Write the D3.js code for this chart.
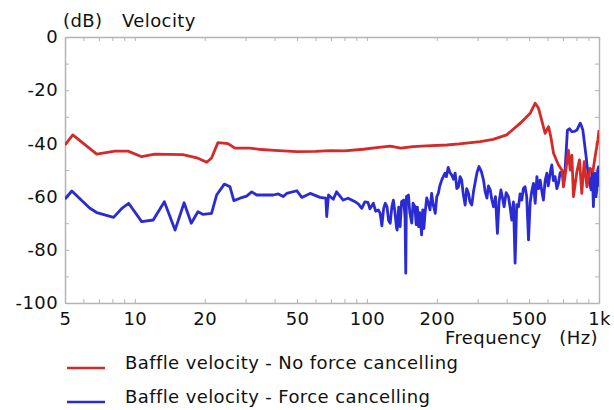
<!DOCTYPE html>
<meta charset="utf-8">
<script src="https://d3js.org/d3.v7.min.js"></script>
<style>
  body { margin: 0; background: #fff; }
  text { font-family: "DejaVu Sans", Verdana, sans-serif; fill: #111; letter-spacing: 0.4px; }
</style>
<div id="main"></div>
<script>

var width = 614
var height = 410

// frequency (Hz) and level (dB)
var noCancelFreq = [5, 5.4, 6.85, 8.2, 9.35, 10.7, 12.2, 16.1, 18.5, 20.4, 21.4, 22.8, 25.2, 27, 31.3, 35, 40, 49.7, 60, 69.4, 80, 96.5, 110, 126, 140, 158, 180, 221, 250, 308, 350, 400, 458, 505, 531, 549, 586, 606, 620, 637, 669, 692, 703, 715, 738, 751, 764, 776, 803, 824, 843, 863, 887, 916, 941, 962, 989, 1000]
var noCancelDb = [-40.6, -36.8, -44, -42.9, -42.9, -45, -44, -44.2, -45.4, -47.1, -45.5, -39.7, -40.1, -41.8, -41.8, -42.3, -42.6, -43.1, -43, -42.7, -42.8, -42.2, -41.6, -41, -41.8, -41.2, -40.9, -40.6, -40.2, -39.3, -38.5, -36.8, -32.4, -28.7, -24.9, -26.8, -36.2, -33.7, -37.5, -43.7, -48.1, -50, -56.3, -52, -42.5, -50, -44.4, -60, -50.6, -46.2, -58.8, -46.9, -56.3, -49.4, -50.6, -45, -38.7, -35]

var cancelFreq = [5, 5.35, 6.4, 6.85, 8.1, 8.8, 9.4, 10.7, 12, 13.4, 14.9, 16.3, 17.5, 18.7, 19.7, 21.4, 22.5, 24.3, 25.7, 26.7, 28.4, 30.3, 31.9, 33.5, 39.5, 41.5, 43.6, 45.1, 49.9, 52.4, 56.9, 62.8, 66.5, 67.1, 68.3, 71.6, 74, 79, 83,
  88.9, 92, 95, 98, 101, 103, 106.6, 109, 112, 114, 116, 118, 120, 122, 124, 126, 128, 130, 132, 134, 135, 137, 139, 141, 144, 146, 147, 148, 151, 153, 156, 158, 161, 163, 165, 167, 169, 172, 174, 176, 178, 181, 184, 187, 190, 193, 197, 200, 203, 206, 210,
  217, 220, 224, 228, 232, 236, 240, 244, 248, 252, 256, 260, 265, 269, 274, 278, 283, 288, 293, 298, 304, 311, 318, 323, 329, 334, 340, 345, 351, 358, 365, 371, 378, 384, 390, 398, 407, 414, 421, 428, 435, 442, 450, 457, 465, 472, 480, 488, 497,
  505, 513, 522, 531, 540, 549, 558, 567, 576, 586, 596, 604, 612, 619, 626, 636, 647, 658, 669, 680, 692, 703, 715, 731, 747, 764, 783, 803, 818, 830, 841, 852, 866, 880, 890, 900, 912, 925, 935, 946, 954, 962, 970, 979, 987, 995, 1000]
var cancelDb = [-60.9, -57.9, -64.4, -66, -67.8, -64.4, -62.5, -69.4, -68.8, -61.9, -72.6, -62.3, -70, -65.7, -66.7, -66.3, -59.4, -55.3, -56.3, -61.5, -60.6, -59.8, -58.2, -59.4, -59.4, -59, -60, -58.8, -57.8, -60.3, -58.8, -60.3, -60.6, -67.5, -59.4, -61, -58.2, -61.3, -60.6,
  -61.9, -62.8, -64.4, -62, -62.2, -64.6, -62.5, -65.5, -65, -66.3, -71, -64.5, -62.5, -63.8, -69, -70, -64, -61.3, -65.7, -71.5, -72.6, -64, -71.3, -61.9, -61.3, -68, -88.8, -60, -59.4, -66, -70, -62.5, -63.8, -70.5, -64, -71.3, -66, -74.4, -65, -72, -66.3, -60.5, -62.5, -65, -58.8, -63, -66.3, -60, -58.8, -56, -53.8,
  -51.2, -52.5, -49, -51, -51.9, -53.5, -51.2, -57, -56.3, -52.5, -53.8, -59, -63.2, -57, -58.8, -62, -63.2, -58, -54.4, -51, -48.7, -50.5, -53.8, -58, -60.6, -56, -57.5, -61, -63.8, -60, -73.8, -62, -57.5, -60.5, -63.8, -58.5, -60, -64, -68.8, -62, -85, -63, -63.8, -59, -61.3, -57, -56.3, -60, -76.3,
  -62.4, -58, -55, -62.5, -52.5, -57, -53.8, -58, -61.3, -54, -51.2, -56, -53, -50, -48.1, -54, -52.5, -57, -55, -51, -50.6, -53, -49.4, -35, -34.5, -35.6, -35.5, -35, -33.5, -32.4, -33.5, -35, -40, -45, -49, -51.2, -55, -57.5, -50, -63.8, -53, -51.2, -60, -57.5, -50, -48.8, -56.3]

var xMajor = [5, 10, 20, 50, 100, 200, 500, 1000]
var xMajorLabels = ["5", "10", "20", "50", "100", "200", "500", "1k"]
var xMinor = [6, 7, 8, 9, 30, 40, 60, 70, 80, 90, 300, 400, 600, 700, 800, 900]
var yMajor = [0, -20, -40, -60, -80, -100]
var yMinor = [-10, -30, -50, -70, -90]

var seriesNames = ["Baffle velocity - No force cancelling", "Baffle velocity - Force cancelling"]
var seriesColors = ["#d42a2a", "#2b2bd4"]

var margin = {left: 65, right: 15, top: 37, bottom: 107}
var plotW = width - margin.left - margin.right
var plotH = height - margin.top - margin.bottom

var svg = d3.select("#main")
  .append("svg")
    .attr("width", width)
    .attr("height", height)

var x = d3.scaleLog().domain([5, 1000]).range([0, plotW])
var y = d3.scaleLinear().domain([-100, 0]).range([plotH, 0])

var g = svg.append("g").attr("transform", "translate(" + margin.left + "," + margin.top + ")")

svg.append("defs").append("clipPath").attr("id", "plotclip")
  .append("rect").attr("width", plotW).attr("height", plotH)

// frame axes, ticks pointing into the plot
function styleAxis(sel) {
  sel.select(".domain").attr("stroke", "#b4b4b4").attr("stroke-width", 1.5)
  sel.selectAll(".tick line").attr("stroke", "#b4b4b4").attr("stroke-width", 1)
  sel.selectAll("text").style("font-size", "18px").attr("fill", "#111")
}

var bottom = g.append("g").attr("transform", "translate(0," + plotH + ")")
  .call(d3.axisBottom(x).tickValues(xMajor).tickSizeInner(-4).tickSizeOuter(0).tickPadding(9)
    .tickFormat(function(d, i) { return xMajorLabels[i] }))
bottom.call(styleAxis)
g.append("g").attr("transform", "translate(0," + plotH + ")")
  .call(d3.axisBottom(x).tickValues(xMinor).tickSize(-4).tickFormat(""))
  .call(styleAxis).select(".domain").remove()

g.append("g")
  .call(d3.axisTop(x).tickValues(xMajor.concat(xMinor)).tickSizeInner(-4).tickSizeOuter(0).tickFormat(""))
  .call(styleAxis)

// plain hyphen for negative labels
var left = g.append("g")
  .call(d3.axisLeft(y).tickValues(yMajor).tickSizeInner(-4).tickSizeOuter(0).tickPadding(7)
    .tickFormat(function(d) { return String(d) }))
left.call(styleAxis)
g.append("g")
  .call(d3.axisLeft(y).tickValues(yMinor).tickSize(-4).tickFormat(""))
  .call(styleAxis).select(".domain").remove()

g.append("g").attr("transform", "translate(" + plotW + ",0)")
  .call(d3.axisRight(y).tickValues(yMajor.concat(yMinor)).tickSizeInner(-4).tickSizeOuter(0).tickFormat(""))
  .call(styleAxis)

// curves: force cancelling first, the uncancelled one on top
var curves = [
  {f: cancelFreq, db: cancelDb, color: seriesColors[1]},
  {f: noCancelFreq, db: noCancelDb, color: seriesColors[0]}
]
var line = d3.line()
  .x(function(d) { return x(d[0]) })
  .y(function(d) { return y(d[1]) })

var lines = g.append("g").attr("clip-path", "url(#plotclip)")
curves.forEach(function(c) {
  lines.append("path")
    .datum(d3.zip(c.f, c.db))
    .attr("fill", "none")
    .attr("stroke", c.color)
    .attr("stroke-width", 2.8)
    .attr("stroke-linejoin", "round")
    .attr("d", line)
})

// axis titles
svg.append("text").attr("x", 63).attr("y", 27).style("font-size", "18px").text("(dB)")
svg.append("text").attr("x", 122).attr("y", 27).style("font-size", "18px").text("Velocity")
svg.append("text").attr("x", 445).attr("y", 344).style("font-size", "18px").text("Frequency")
svg.append("text").attr("x", 598).attr("y", 344).attr("text-anchor", "end").style("font-size", "18px").text("(Hz)")

// legend
var legend = svg.append("g")
seriesNames.forEach(function(name, i) {
  var ly = 368 + i * 34
  legend.append("line")
    .attr("x1", 67).attr("x2", 105)
    .attr("y1", ly).attr("y2", ly)
    .attr("stroke", seriesColors[i])
    .attr("stroke-width", 2.6)
  legend.append("text")
    .attr("x", 125).attr("y", ly + 1)
    .style("font-size", "18px")
    .text(name)
})

</script>
